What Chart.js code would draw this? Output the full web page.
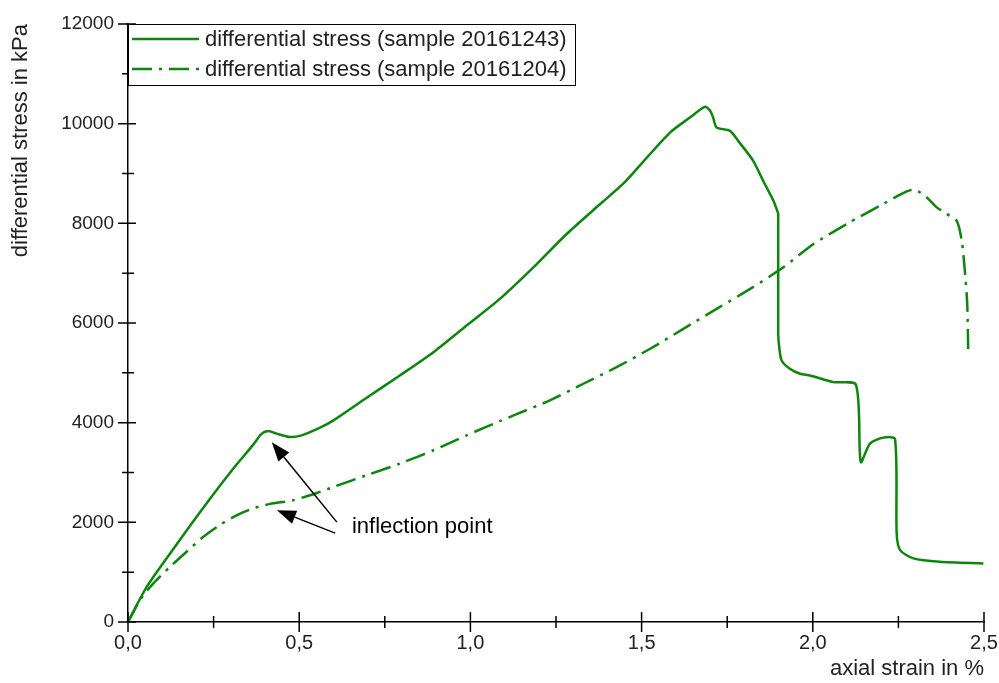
<!DOCTYPE html>
<html>
<head>
<meta charset="utf-8">
<script src="https://cdn.jsdelivr.net/npm/chart.js@4"></script>
<style>
  html, body { margin: 0; padding: 0; background: #fff; }
</style>
</head>
<body>
<canvas id="stressChart" width="999" height="683"></canvas>
<script>
// sample 20161243 (solid line)
const strainA = [0, 0.055, 0.123, 0.186, 0.249, 0.3125, 0.366, 0.39, 0.41, 0.434, 0.473, 0.507, 0.561, 0.6, 0.697,
    0.794, 0.892, 0.989, 1.086, 1.184, 1.281, 1.379, 1.447, 1.505, 1.583, 1.641, 1.685, 1.7, 1.709, 1.719, 1.758,
    1.782, 1.826, 1.855, 1.885, 1.896, 1.899, 1.899, 1.902, 1.909, 1.933, 1.963, 1.992, 2.06, 2.126, 2.14, 2.167,
    2.206, 2.24, 2.245, 2.255, 2.294, 2.371, 2.498];
const stressA = [0, 708, 1376, 1977, 2560, 3120, 3560, 3775, 3832, 3780, 3712, 3746, 3900, 4046, 4500,
    4948, 5415, 5950, 6484, 7117, 7786, 8387, 8800, 9240, 9822, 10122, 10337, 10257, 10122, 9922, 9856,
    9655, 9255, 8854, 8454, 8253, 8187, 5790, 5515, 5248, 5082, 4982, 4948, 4814, 4761, 3211, 3580,
    3700, 3672, 1777, 1442, 1276, 1208, 1176];

// sample 20161204 (dash-dot line)
const strainB = [0, 0.035, 0.074, 0.123, 0.171, 0.22, 0.269, 0.317, 0.366, 0.415, 0.483, 0.561, 0.6, 0.697,
    0.794, 0.892, 0.989, 1.086, 1.135, 1.232, 1.33, 1.427, 1.525, 1.622, 1.719, 1.817, 1.914, 2.001, 2.099,
    2.196, 2.274, 2.298, 2.333, 2.362, 2.391, 2.42, 2.435, 2.444, 2.451, 2.454];
const stressB = [0, 441, 775, 1108, 1409, 1709, 1950, 2140, 2280, 2370, 2444, 2611, 2710, 2945,
    3179, 3446, 3746, 4030, 4170, 4447, 4781, 5114, 5483, 5883, 6284, 6684, 7117, 7580, 7987,
    8353, 8640, 8674, 8520, 8320, 8187, 8053, 7652, 7051, 6384, 5383];

const seriesLabels = ['differential stress (sample 20161243)', 'differential stress (sample 20161204)'];

// annotation: two arrows pointing at the inflection points
const arrowTails = [[0.610, 2004], [0.605, 1783]];
const arrowTips = [[0.420, 3606], [0.435, 2244]];
const noteText = 'inflection point';
const notePos = [0.654, 1783];

const green = '#0b870b';
const textFont = "22px 'Liberation Sans', Arial, sans-serif";

function toPoints(xs, ys) {
    return xs.map((x, i) => ({ x: x, y: ys[i] }));
}

// ticks that cross the axis line, major and minor
function drawAxisTicks(chart) {
    const ctx = chart.ctx;
    const xs = chart.scales.x;
    const ys = chart.scales.y;
    const area = chart.chartArea;
    ctx.save();
    ctx.strokeStyle = '#000';
    ctx.lineWidth = 1.5;
    ctx.beginPath();
    for (let v = 0; v <= 2.5001; v += 0.25) {
        const px = xs.getPixelForValue(v);
        const major = Math.round(v * 100) % 50 === 0;
        const out = major ? 10 : 6, inn = major ? 10 : 6;
        ctx.moveTo(px, area.bottom - inn);
        ctx.lineTo(px, area.bottom + out);
    }
    for (let v = 0; v <= 12000; v += 1000) {
        const py = ys.getPixelForValue(v);
        const major = v % 2000 === 0;
        const out = major ? 10 : 6, inn = major ? 8 : 6;
        ctx.moveTo(area.left - out, py);
        ctx.lineTo(area.left + inn, py);
    }
    ctx.stroke();
    ctx.restore();
}

function drawArrow(ctx, x1, y1, x2, y2) {
    const ang = Math.atan2(y2 - y1, x2 - x1);
    const headLen = 19, headHalf = 7;
    const bx = x2 - headLen * Math.cos(ang);
    const by = y2 - headLen * Math.sin(ang);
    ctx.beginPath();
    ctx.moveTo(x1, y1);
    ctx.lineTo(bx, by);
    ctx.stroke();
    ctx.beginPath();
    ctx.moveTo(x2, y2);
    ctx.lineTo(bx + headHalf * Math.sin(ang), by - headHalf * Math.cos(ang));
    ctx.lineTo(bx - headHalf * Math.sin(ang), by + headHalf * Math.cos(ang));
    ctx.closePath();
    ctx.fill();
}

const extrasPlugin = {
    id: 'extras',
    afterDraw(chart) {
        const ctx = chart.ctx;
        const xs = chart.scales.x;
        const ys = chart.scales.y;
        const area = chart.chartArea;

        drawAxisTicks(chart);

        // arrows + note
        ctx.save();
        ctx.strokeStyle = '#000';
        ctx.fillStyle = '#000';
        ctx.lineWidth = 1.5;
        arrowTails.forEach((t, i) => {
            drawArrow(ctx,
                xs.getPixelForValue(t[0]), ys.getPixelForValue(t[1]),
                xs.getPixelForValue(arrowTips[i][0]), ys.getPixelForValue(arrowTips[i][1]));
        });
        ctx.font = textFont;
        ctx.textAlign = 'left';
        ctx.textBaseline = 'alphabetic';
        ctx.fillText(noteText, xs.getPixelForValue(notePos[0]), ys.getPixelForValue(notePos[1]));
        ctx.restore();

        // legend box in the top left corner
        const boxW = 447, boxH = 61;
        ctx.save();
        ctx.fillStyle = '#fff';
        ctx.fillRect(area.left, area.top, boxW, boxH);
        ctx.strokeStyle = '#000';
        ctx.lineWidth = 1;
        ctx.strokeRect(area.left + 0.5, area.top + 0.5, boxW, boxH);
        chart.data.datasets.forEach((ds, i) => {
            const y = area.top + 15 + i * 30;
            ctx.strokeStyle = ds.borderColor;
            ctx.lineWidth = ds.borderWidth;
            ctx.setLineDash(ds.borderDash || []);
            ctx.beginPath();
            ctx.moveTo(area.left + 4, y);
            ctx.lineTo(area.left + 71, y);
            ctx.stroke();
            ctx.setLineDash([]);
            ctx.fillStyle = '#222';
            ctx.font = textFont;
            ctx.textBaseline = 'middle';
            ctx.fillText(ds.label, area.left + 77, y + 1);
        });
        ctx.restore();
    }
};

const ctx = document.getElementById('stressChart').getContext('2d');
new Chart(ctx, {
    type: 'scatter',
    data: {
        datasets: [
            {
                label: seriesLabels[0],
                data: toPoints(strainA, stressA),
                showLine: true,
                borderColor: green,
                borderWidth: 2.5,
                pointRadius: 0,
                tension: 0.25,
                fill: false
            },
            {
                label: seriesLabels[1],
                data: toPoints(strainB, stressB),
                showLine: true,
                borderColor: green,
                borderWidth: 2.5,
                borderDash: [20, 7, 3, 7],
                pointRadius: 0,
                tension: 0.25,
                fill: false
            }
        ]
    },
    options: {
        responsive: false,
        animation: false,
        layout: { padding: { top: 24, right: 15, left: 0, bottom: 0 } },
        plugins: {
            legend: { display: false },
            tooltip: { enabled: false }
        },
        scales: {
            x: {
                type: 'linear',
                min: 0,
                max: 2.5,
                afterFit: s => { s.height = 61; s.paddingRight = 0; s.paddingLeft = 0; },
                border: { display: true, color: '#000', width: 1.5 },
                grid: { display: false, drawTicks: false },
                ticks: {
                    stepSize: 0.5,
                    padding: 9,
                    color: '#222',
                    font: { family: "'Liberation Sans', Arial", size: 20 },
                    callback: v => v.toFixed(1).replace('.', ',')
                },
                title: {
                    display: true,
                    text: 'axial strain in %',
                    align: 'end',
                    color: '#222',
                    font: { family: "'Liberation Sans', Arial", size: 22 },
                    padding: { top: 0, bottom: 1 }
                }
            },
            y: {
                min: 0,
                max: 12000,
                afterFit: s => { s.width = 128; s.paddingTop = 0; s.paddingBottom = 0; },
                border: { display: true, color: '#000', width: 1.5 },
                grid: { display: false, drawTicks: false },
                ticks: {
                    stepSize: 2000,
                    padding: 14,
                    color: '#222',
                    font: { family: "'Liberation Sans', Arial", size: 19 },
                    callback: v => String(v)
                },
                title: {
                    display: true,
                    text: 'differential stress in kPa',
                    align: 'end',
                    color: '#222',
                    font: { family: "'Liberation Sans', Arial", size: 22 },
                    padding: { top: 8, bottom: 0 }
                }
            }
        }
    },
    plugins: [extrasPlugin]
});
</script>
</body>
</html>
